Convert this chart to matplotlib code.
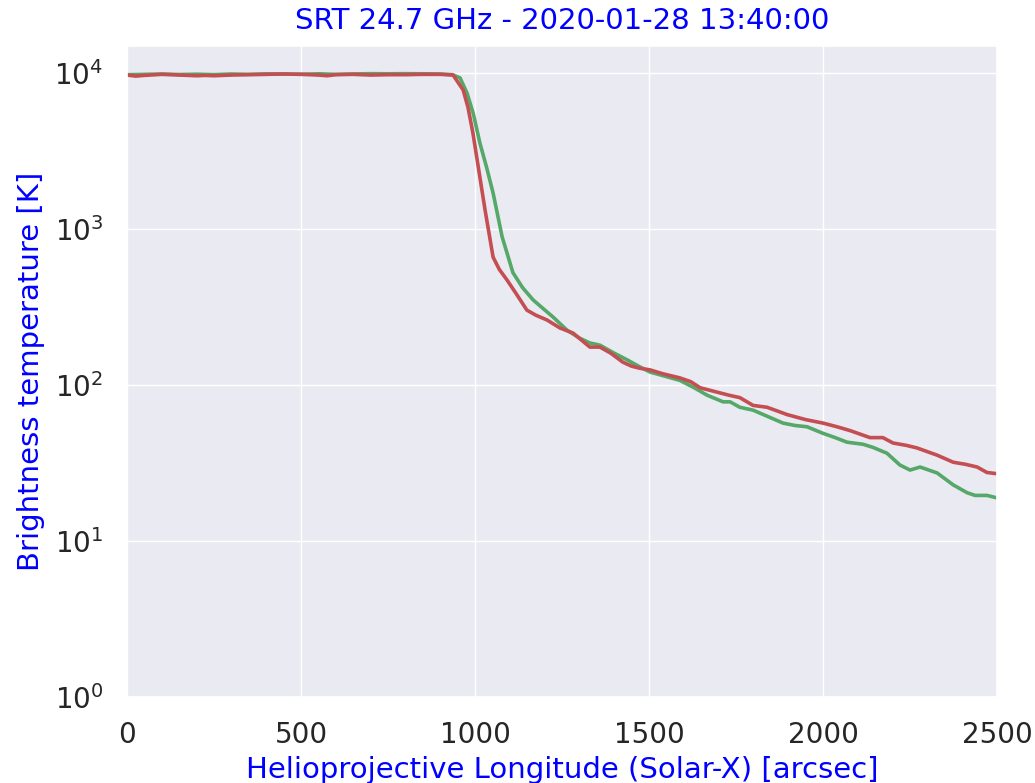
import matplotlib
matplotlib.use("Agg")
import matplotlib.pyplot as plt
import seaborn as sns
import numpy as np

# flat disk part + limb drop + off-limb tail
x_green = [0, 50, 100, 150, 200, 250, 300, 350, 400, 450, 500, 550, 600, 650, 700,
           750, 800, 850, 900, 935, 957, 977, 995, 1014, 1033, 1052, 1078, 1109, 1137,
           1167, 1195, 1224, 1264, 1300, 1330, 1359, 1400, 1437, 1470, 1503, 1545,
           1589, 1630, 1667, 1713, 1733, 1761, 1799, 1840, 1885, 1920, 1954, 2000,
           2035, 2069, 2115, 2144, 2184, 2221, 2250, 2279, 2328, 2374, 2414, 2437,
           2471, 2500]
y_green = [9750, 9800, 9850, 9780, 9820, 9760, 9850, 9800, 9870, 9850, 9820, 9880,
           9800, 9860, 9900, 9880, 9900, 9880, 9850, 9750, 9300, 7450, 5500, 3560,
           2500, 1700, 890, 525, 420, 351, 310, 273, 225, 200, 186, 180, 160, 145,
           132, 121, 114, 107, 96, 86, 78, 78, 72, 69, 63, 57, 55, 54, 49, 46, 43,
           41.7, 39.8, 36.5, 30.7, 28.5, 29.8, 27.3, 22.9, 20.4, 19.6, 19.6, 18.9]

x_red = [0, 25, 50, 100, 150, 200, 225, 250, 300, 350, 400, 450, 500, 550, 575, 600,
         650, 700, 750, 800, 850, 900, 937, 966, 980, 994, 1014, 1029, 1052, 1070,
         1092, 1120, 1149, 1175, 1207, 1244, 1282, 1330, 1359, 1390, 1425, 1450,
         1474, 1503, 1540, 1589, 1620, 1647, 1704, 1730, 1761, 1799, 1839, 1870,
         1897, 1950, 2000, 2040, 2078, 2135, 2172, 2201, 2240, 2270, 2328, 2374,
         2410, 2443, 2471, 2500]
y_red = [9700, 9550, 9650, 9800, 9700, 9600, 9650, 9600, 9700, 9750, 9800, 9850,
         9800, 9700, 9600, 9750, 9800, 9700, 9750, 9750, 9800, 9800, 9700, 7780,
         6000, 4120, 2150, 1320, 660, 550, 471, 380, 302, 280, 261, 232, 215, 175,
         175, 160, 140, 132, 128, 125, 118, 111, 105, 96, 89, 86, 83, 74, 72, 68,
         64.6, 60, 57, 54, 51, 46, 46, 42.5, 41, 39.5, 35.5, 32, 31, 29.8, 27.5, 27]

sns.set_theme(style="darkgrid", palette="deep")
plt.rcParams['font.family'] = ['DejaVu Sans']

fig = plt.figure(figsize=(10.35, 7.83), dpi=100)
ax = fig.add_axes([0.1227, 0.1098, 0.8406, 0.8315])

ax.plot(x_green, y_green, color="#55A868", lw=2.6)
ax.plot(x_red, y_red, color="#C44E52", lw=2.6)

ax.set_yscale("log")
ax.set_xlim(0, 2500)
ax.set_ylim(1, 14900)
ax.set_xticks([0, 500, 1000, 1500, 2000, 2500])
ax.tick_params(axis="both", labelsize=20, colors="0.15", pad=11)
ax.minorticks_off()

ax.set_title("SRT 24.7 GHz - 2020-01-28 13:40:00", color="blue", fontsize=21, pad=12)
ax.set_xlabel("Helioprojective Longitude (Solar-X) [arcsec]", color="blue", fontsize=21, labelpad=5)
ax.set_ylabel("Brightness temperature [K]", color="blue", fontsize=21, labelpad=7)

fig.savefig("out.png", dpi=100)
